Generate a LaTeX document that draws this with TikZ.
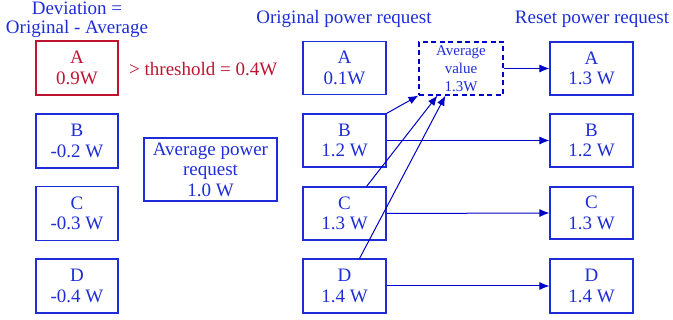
\documentclass[tikz,border=0pt]{standalone}
\usepackage{fontspec}
\setmainfont{Liberation Serif}
\usetikzlibrary{arrows.meta}
\definecolor{tblue}{RGB}{30,45,215}
\definecolor{lblue}{RGB}{0,0,200}
\definecolor{tred}{RGB}{190,20,50}
\begin{document}
\begin{tikzpicture}[x=1pt,y=-1pt,
  box/.style={draw=tblue,line width=1.1pt,text=tblue,align=center,inner sep=0pt,
    font=\fontsize{19}{20.5}\selectfont},
  hdr/.style={text=tblue,align=center,inner sep=0pt,font=\fontsize{19}{19.5}\selectfont},
  arr/.style={draw=lblue,line width=1pt,-{Latex[length=10pt,width=8pt]}}]
\useasboundingbox (0,0) rectangle (673,320);
% left column
\node[box,draw=tred,text=tred,minimum width=82pt,minimum height=54pt] (la) at (77,68) {A\\0.9W};
\node[box,minimum width=82pt,minimum height=54pt] (lb) at (77,141) {B\\-0.2 W};
\node[box,minimum width=82pt,minimum height=54pt] (lc) at (77,213.5) {C\\-0.3 W};
\node[box,minimum width=82pt,minimum height=54pt] (ld) at (77,286) {D\\-0.4 W};
\node[hdr] (h1) at (77,20) {Deviation =\\Original - Average};
\node[text=tred,anchor=west,inner sep=0pt,font=\fontsize{19}{19}\selectfont] (thr) at (129,69) {> threshold = 0.4W};
% average power request
\node[box,minimum width=133pt,minimum height=63pt] (apr) at (210.5,169.5) {Average power\\request\\1.0 W};
% middle column
\node[hdr] (h2) at (344,19) {Original power request};
\node[box,minimum width=83pt,minimum height=53pt] (ma) at (344.5,68) {A\\0.1W};
\node[box,minimum width=83pt,minimum height=53pt] (mb) at (344.5,140.5) {B\\1.2 W};
\node[box,minimum width=83pt,minimum height=53pt] (mc) at (344.5,213.5) {C\\1.3 W};
\node[box,minimum width=83pt,minimum height=54pt] (md) at (344.5,286) {D\\1.4 W};
% average value
\node[draw=lblue,dash pattern=on 5pt off 3.5pt,line width=1.1pt,text=tblue,align=center,inner sep=0pt,
  minimum width=84pt,minimum height=53pt,font=\fontsize{15}{18}\selectfont] (av) at (461,68.5) {Average\\value\\1.3W};
% right column
\node[hdr] (h3) at (592,19) {Reset power request};
\node[box,minimum width=83pt,minimum height=53pt] (ra) at (591.5,68.5) {A\\1.3 W};
\node[box,minimum width=83pt,minimum height=53pt] (rb) at (591.5,140.5) {B\\1.2 W};
\node[box,minimum width=83pt,minimum height=52pt] (rc) at (591.5,213) {C\\1.3 W};
\node[box,minimum width=83pt,minimum height=54pt] (rd) at (591.5,286) {D\\1.4 W};
% arrows
\draw[arr] (av.east) -- (ra.west);
\draw[arr] (mb.east) -- (rb.west);
\draw[arr] (mc.east) -- (rc.west);
\draw[arr] (md.east) -- (rd.west);
\draw[arr] (mb.north east) -- (av.south west);
\draw[arr] ([xshift=-20pt]mc.north east) -- ([xshift=19pt]av.south west);
\draw[arr] ([xshift=-27pt]md.north east) -- ([xshift=27pt]av.south west);
\end{tikzpicture}
\end{document}
